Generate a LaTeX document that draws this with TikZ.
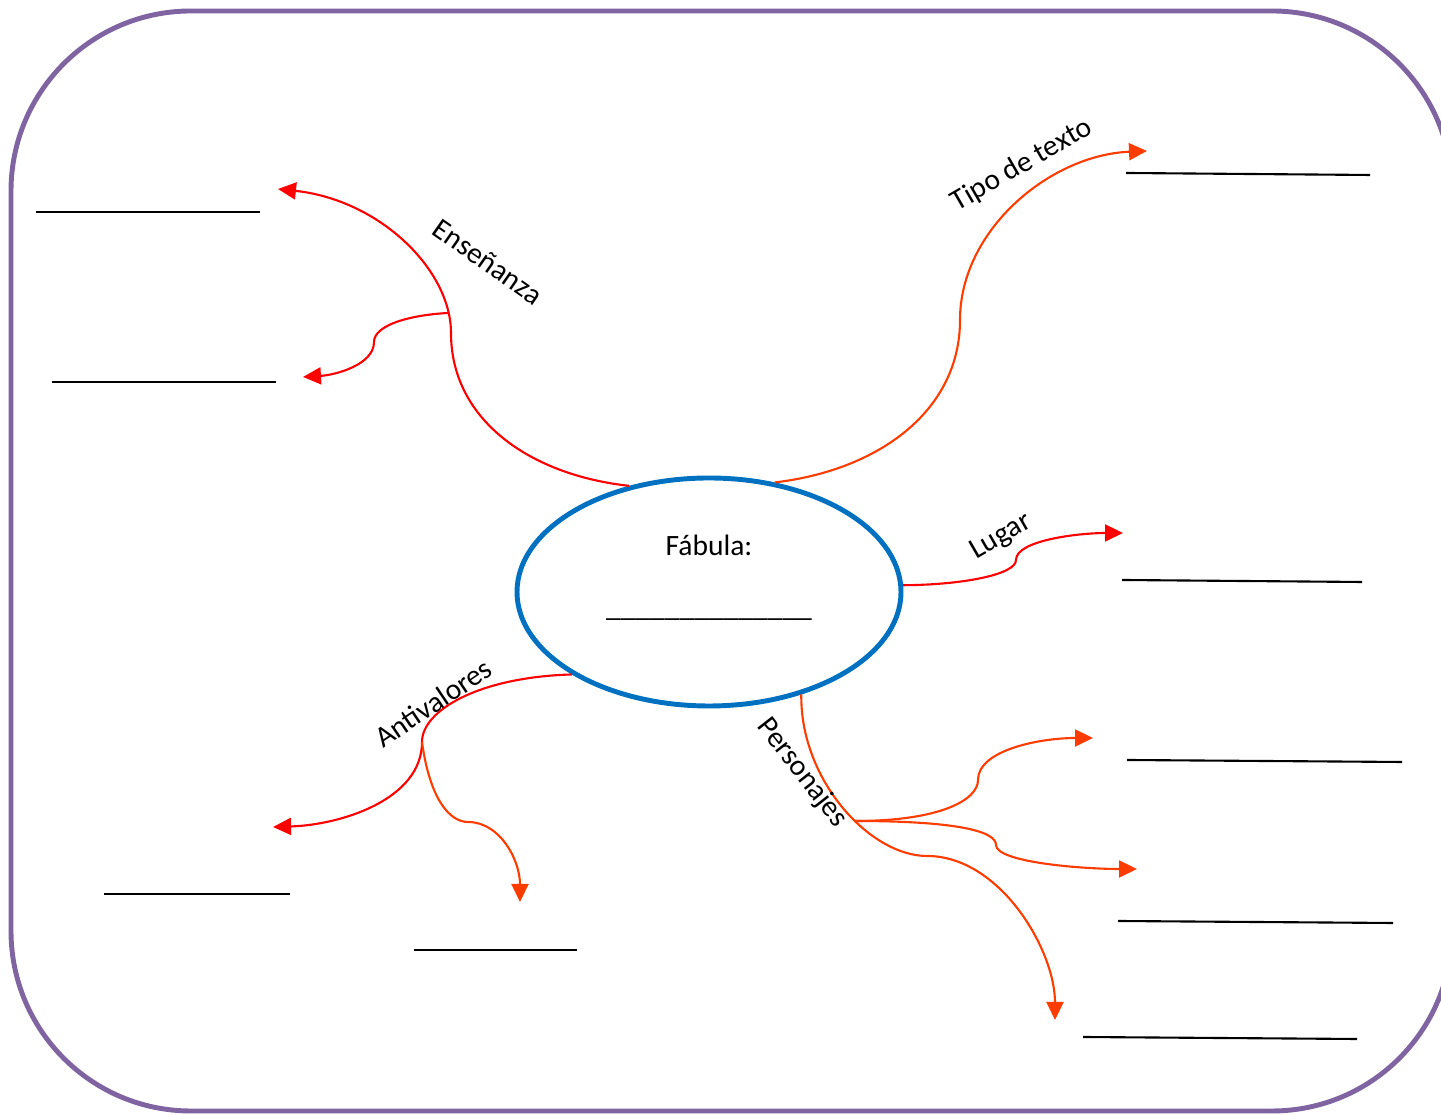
\documentclass[tikz,border=0pt]{standalone}
\usepackage{fontspec}
\setmainfont{Carlito}
\usetikzlibrary{shapes.geometric,arrows.meta}

\definecolor{marco}{RGB}{128,100,162}
\definecolor{azul}{RGB}{0,112,192}
\definecolor{rojo}{RGB}{255,0,0}
\definecolor{naranja}{RGB}{255,60,0}

\tikzset{
	rama/.style={line width=0.6pt, -{Triangle[length=1.8mm,width=1.7mm]}},
	tronco/.style={line width=0.6pt},
	blanco/.style={line width=0.6pt, black},
	etiqueta/.style={font=\fontsize{8.4}{10}\selectfont, inner sep=0pt}
}

\begin{document}
\begin{tikzpicture}[scale=1]
	\useasboundingbox (0,0) rectangle (14.41,11.15);
	\clip (0,0) rectangle (14.41,11.15);
	% frame
	\draw[marco, line width=1.4pt, rounded corners=1.8cm] (0.11,0.04) rectangle (14.52,11.04);
	% centre
	\node[ellipse, draw=azul, line width=1.4pt, minimum width=3.84cm, minimum height=2.28cm, inner sep=0pt] (fabula) at (7.09,5.23) {};
	\node[etiqueta] (titulo) at (7.09,5.70) {Fábula:};
	\node[etiqueta, anchor=base] (hueco) at (7.09,4.98) {\_\_\_\_\_\_\_\_\_\_\_\_\_\_};
	% end points
	\coordinate (ens-j) at (4.48,8.02);
	\coordinate (ens-a) at (2.78,9.26);
	\coordinate (ens-b) at (3.03,7.38);
	\coordinate (tip-a) at (11.47,9.64);
	\coordinate (lug-a) at (11.23,5.82);
	\coordinate (ant-j) at (4.22,3.73);
	\coordinate (ant-a) at (2.73,2.88);
	\coordinate (ant-b) at (5.20,2.13);
	\coordinate (per-j) at (8.55,2.94);
	\coordinate (per-a) at (10.93,3.77);
	\coordinate (per-b) at (11.37,2.46);
	\coordinate (per-c) at (10.55,0.95);
	% branches
	\draw[rama, rojo] (fabula.127) .. controls (5.30,6.40) and (4.51,6.95) .. (4.51,7.82)
		.. controls (4.51,8.45) and (3.80,9.15) .. (ens-a);
	\draw[rama, rojo] (ens-j) .. controls (4.10,8.00) and (3.74,7.90) .. (3.74,7.73)
		.. controls (3.74,7.50) and (3.35,7.40) .. (ens-b);
	\draw[rama, naranja] (fabula.59) .. controls (8.80,6.45) and (9.60,7.05) .. (9.60,7.95)
		.. controls (9.60,8.85) and (10.50,9.60) .. (tip-a);
	\draw[rama, rojo] (fabula.2) .. controls (9.60,5.30) and (10.16,5.40) .. (10.16,5.55)
		.. controls (10.16,5.75) and (10.80,5.82) .. (lug-a);
	\draw[tronco, rojo] (fabula.211) .. controls (4.80,4.38) and (4.22,4.05) .. (ant-j);
	\draw[rama, rojo] (ant-j) .. controls (4.22,3.15) and (3.40,2.90) .. (ant-a);
	\draw[rama, naranja] (ant-j) .. controls (4.30,3.15) and (4.50,2.93) .. (4.68,2.93)
		.. controls (5.00,2.93) and (5.20,2.55) .. (ant-b);
	\draw[rama, naranja] (fabula.312) .. controls (8.00,3.35) and (8.70,2.59) .. (9.27,2.59)
		.. controls (10.00,2.59) and (10.55,1.65) .. (per-c);
	\draw[rama, naranja] (per-j) .. controls (9.40,2.94) and (9.78,3.15) .. (9.78,3.35)
		.. controls (9.78,3.65) and (10.40,3.77) .. (per-a);
	\draw[rama, naranja] (per-j) .. controls (9.50,2.94) and (9.96,2.85) .. (9.96,2.70)
		.. controls (9.96,2.53) and (10.80,2.46) .. (per-b);
	% labels
	\node[etiqueta, rotate=-35] (ensenanza) at (4.88,8.53) {Enseñanza};
	\node[etiqueta, rotate=30] (tipo) at (10.22,9.50) {Tipo de texto};
	\node[etiqueta, rotate=30] (lugar) at (10.01,5.78) {Lugar};
	\node[etiqueta, rotate=34] (antivalores) at (4.33,4.12) {Antivalores};
	\node[etiqueta, rotate=-52] (personajes) at (8.02,3.42) {Personajes};
	% blanks to fill in
	\foreach \xa/\ya/\xb/\yb in {0.36/9.03/2.60/9.03, 0.52/7.33/2.76/7.33, 11.26/9.42/13.70/9.40,
		11.22/5.35/13.62/5.33, 11.27/3.55/14.02/3.53, 11.18/1.94/13.93/1.92,
		10.83/0.78/13.57/0.76, 1.04/2.21/2.90/2.21, 4.14/1.65/5.77/1.65}
		\draw[blanco] (\xa,\ya) -- (\xb,\yb);
\end{tikzpicture}
\end{document}
